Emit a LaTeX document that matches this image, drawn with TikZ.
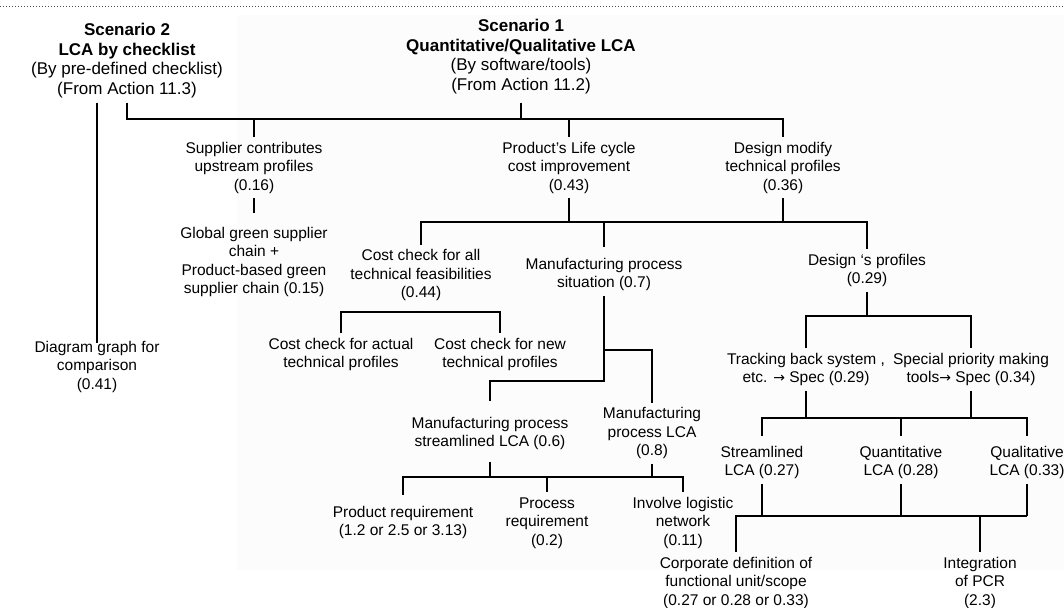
\documentclass[tikz,border=0pt]{standalone}
\usepackage{fontspec}
\setmainfont{Liberation Sans}
\newfontfamily\arrfont{DejaVu Sans}
\usetikzlibrary{calc}
\newcommand\strA{\rule[-4pt]{0pt}{16pt}}
\newcommand\strB{\rule[-4.5pt]{0pt}{17pt}}
\newcommand\rarr{{\arrfont\fontsize{14}{18.5}\selectfont →}}
\begin{document}
\begin{tikzpicture}[x=1pt,y=-1pt,
  txt/.style={align=center,inner sep=0pt,outer ysep=4pt,font=\fontsize{15.5}{18.5}\selectfont},
  ttl/.style={align=center,inner sep=0pt,outer ysep=3.5pt,font=\fontsize{17}{19.7}\selectfont},
  ln/.style={line width=2pt,black},
]
\useasboundingbox (0,0) rectangle (1064,607);
\fill[black!1] (237,15) rectangle (1064,570);
\draw[gray!60!black,line width=1pt,dash pattern=on 1.2pt off 1.8pt] (0,7) -- (1064,7);

% titles
\node[ttl] (sc2) at (127,61) {\strB\textbf{Scenario 2}\\\textbf{LCA by checklist}\\(By pre-defined checklist)\\(From Action 11.3)\strB};
\node[ttl] (sc1) at (521,57) {\strB\textbf{Scenario 1}\\\textbf{Quantitative/Qualitative LCA}\\(By software/tools)\\(From Action 11.2)\strB};

% level 1
\node[txt] (sup)  at (254,167.5) {\strA Supplier contributes\\upstream profiles\\(0.16)\strA};
\node[txt] (prod) at (569,167.5) {\strA Product’s Life cycle\\cost improvement\\(0.43)\strA};
\node[txt] (dmod) at (783,167.5) {\strA Design modify\\technical profiles\\(0.36)\strA};

% level 2
\node[txt] (glob) at (254,262) {\strA Global green supplier\\chain +\\Product-based green\\supplier chain (0.15)\strA};
\node[txt] (cca)  at (421,275) {\strA Cost check for all\\technical feasibilities\\(0.44)\strA};
\node[txt] (mps)  at (604,274.5) {\strA Manufacturing process\\situation (0.7)\strA};
\node[txt] (dpr)  at (867,270.5) {\strA Design ‘s profiles\\(0.29)\strA};

% level 3
\node[txt] (diag)  at (97,366.5) {\strA Diagram graph for\\comparison\\(0.41)\strA};
\node[txt] (ccact) at (341,354.5) {\strA Cost check for actual\\technical profiles\strA};
\node[txt] (ccnew) at (500,354.5) {\strA Cost check for new\\technical profiles\strA};
\node[txt] (track) at (806,369.5) {\strA Tracking back system ,\\etc. \rarr{} Spec (0.29)\strA};
\node[txt] (spec)  at (971,369.5) {\strA Special priority making\\tools\rarr{} Spec (0.34)\strA};

% level 4
\node[txt] (mpsl)  at (490,433.5) {\strA Manufacturing process\\streamlined LCA (0.6)\strA};
\node[txt] (mplca) at (652,433) {\strA Manufacturing\\process LCA\\(0.8)\strA};
\node[txt] (strl)  at (762,462.5) {\strA Streamlined\\LCA (0.27)\strA};
\node[txt] (quant) at (901,462.5) {\strA Quantitative\\LCA (0.28)\strA};
\node[txt] (qual)  at (1027,462.5) {\strA Qualitative\\LCA (0.33)\strA};

% level 5
\node[txt] (preq)    at (403,522.5) {\strA Product requirement\\(1.2 or 2.5 or 3.13)\strA};
\node[txt] (procreq) at (547,522.5) {\strA Process\\requirement\\(0.2)\strA};
\node[txt] (logi)    at (683,522.5) {\strA Involve logistic\\network\\(0.11)\strA};
\node[txt] (corp)    at (736,582.5) {\strA Corporate definition of\\functional unit/scope\\(0.27 or 0.28 or 0.33)\strA};
\node[txt] (pcr)     at (980,582.5) {\strA Integration\\of PCR\\(2.3)\strA};

% bus levels
\coordinate (bus1) at (0,119);
\coordinate (bus2) at (0,222);
\coordinate (bus3) at (0,312);
\coordinate (j1)   at (0,350);
\coordinate (j2)   at (0,381);
\coordinate (bus4) at (0,477);
\coordinate (bus5) at (0,316);
\coordinate (bus6) at (0,418);
\coordinate (bus7) at (0,516);

% connectors
\draw[ln] (sc2.south -| diag.north) -- ([yshift=-6.5pt]diag.north);
\draw[ln] (sc2.south) -- (sc2.south |- bus1) -- (bus1 -| dmod.north) -- (dmod.north);
\draw[ln,shorten <=4pt] (sc1.south) -- (sc1.south |- bus1);
\draw[ln] (bus1 -| sup.north) -- (sup.north);
\draw[ln] (bus1 -| prod.north) -- (prod.north);
\draw[ln,shorten >=9.5pt] (sup.south) -- (glob.north);

\draw[ln] (prod.south) -- (prod.south |- bus2);
\draw[ln] (dmod.south) -- (dmod.south |- bus2);
\draw[ln] (cca.north) -- (cca.north |- bus2) -- (bus2 -| dpr.north) -- (dpr.north);
\draw[ln,shorten <=6pt] (mps.north) -- (mps.north |- bus2);

\draw[ln,shorten <=5pt] (cca.south) -- (cca.south |- bus3);
\draw[ln] (ccact.north) -- (ccact.north |- bus3) -- (bus3 -| ccnew.north) -- (ccnew.north);

\draw[ln,shorten >=11pt] (mps.south) -- (mps.south |- j2) -- (j2 -| mpsl.north) -- (mpsl.north);
\draw[ln] (mps.south |- j1) -- (j1 -| mplca.north) -- (mplca.north);

\draw[ln,shorten <=7.5pt] (mpsl.south) -- (mpsl.south |- bus4);
\draw[ln] (mplca.south) -- (mplca.south |- bus4);
\draw[ln,shorten <=6.5pt] (preq.north) -- (preq.north |- bus4) -- (bus4 -| logi.north) -- (logi.north);
\draw[ln] (bus4 -| procreq.north) -- (procreq.north);

\draw[ln] (dpr.south) -- (dpr.south |- bus5);
\draw[ln] (track.north) -- (track.north |- bus5) -- (bus5 -| spec.north) -- (spec.north);

\draw[ln] (track.south) -- (track.south |- bus6);
\draw[ln] (spec.south) -- (spec.south |- bus6);
\draw[ln,shorten <=5.5pt,shorten >=5.5pt] (strl.north) -- (strl.north |- bus6) -- (bus6 -| qual.north) -- (qual.north);
\draw[ln,shorten >=5.5pt] (bus6 -| quant.north) -- (quant.north);

\draw[ln] (strl.south) -- (strl.south |- bus7);
\draw[ln] (quant.south) -- (quant.south |- bus7);
\draw[ln] (qual.south) -- (qual.south |- bus7);
\draw[ln] (corp.north) -- (corp.north |- bus7) -- (bus7 -| qual.south);
\draw[ln] (bus7 -| pcr.north) -- (pcr.north);
\end{tikzpicture}
\end{document}
